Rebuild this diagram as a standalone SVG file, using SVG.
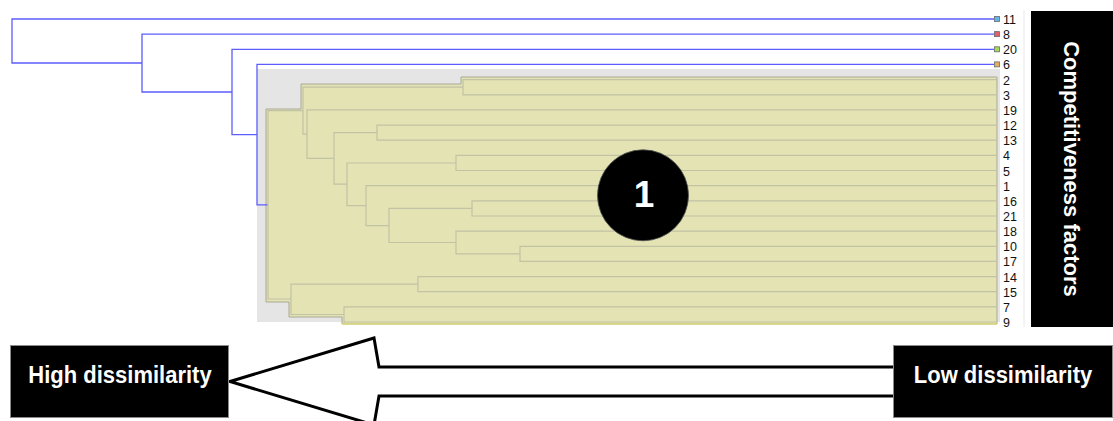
<svg xmlns="http://www.w3.org/2000/svg" width="1113" height="421" viewBox="0 0 1113 421">
<style>
.blue{fill:none;stroke:#5c5cff;stroke-width:1.3}
.tree{fill:none;stroke:#c2c2a4;stroke-width:1.2}
.lbl{font-family:"Liberation Sans",Arial,sans-serif;font-size:12.5px;fill:#111}
.sq{stroke:#6a6a6a;stroke-width:0.8}
.box{fill:#000;stroke:#8a8a8a;stroke-width:1}
.btxt{font-family:"Liberation Sans",Arial,sans-serif;font-weight:bold;font-size:22px;fill:#fff;text-anchor:middle}
</style>
<rect width="1113" height="421" fill="#fff"/>
<line x1="1024" y1="10" x2="1024" y2="327" stroke="#e8e8e8" stroke-width="1"/>

<g id="cluster-background">
  <rect x="257" y="69" width="743" height="253" fill="#e5e5e5"/>
  <polygon points="461,77 997,77 997,324 342,324 342,317 289,317 289,302 266,302 266,109 301,109 301,84 461,84" fill="#e3e3b4" stroke="#a9a996" stroke-width="1"/>
  <line x1="342" y1="324" x2="997" y2="324" stroke="#e6e060" stroke-width="1"/>
</g>

<g id="connectors">
  <g id="blue-tree" class="blue">
    <path d="M994,19 H12 V63 H142"/>
    <path d="M994,34.1 H142 V92 H232"/>
    <path d="M994,49.3 H232 V134.6 H257"/>
    <path d="M994,64.4 H257 V204.8 H268"/>
  </g>
  <g id="cluster-tree" class="tree">
    <path d="M291,299 H268 V110.6 H303"/>
    <path d="M463,87.2 H303 V134.2 H307"/>
    <path d="M997,79.6 H463 V94.8 H997"/>
    <path d="M997,109.9 H307 V158.3 H334"/>
    <path d="M377,132.7 H334 V184.2 H347"/>
    <path d="M997,125.1 H377 V140.2 H997"/>
    <path d="M456,163 H347 V205.7 H366"/>
    <path d="M997,155.4 H456 V170.5 H997"/>
    <path d="M997,185.7 H366 V225.6 H389"/>
    <path d="M472,208.4 H389 V242.5 H456"/>
    <path d="M997,200.8 H472 V216 H997"/>
    <path d="M997,231.1 H456 V253.9 H520"/>
    <path d="M997,246.3 H520 V261.4 H997"/>
    <path d="M418,284.2 H291 V314.5 H344"/>
    <path d="M997,276.6 H418 V291.7 H997"/>
    <path d="M997,306.9 H344 V322 H997"/>
  </g>
  <polygon id="arrow" points="230,381.5 374,338 379,367 900,367 900,396 379,396 374,425" fill="#fff" stroke="#000" stroke-width="3" stroke-linejoin="miter"/>
</g>

<g id="leaf-markers">
  <rect class="sq" x="994.5" y="16.5" width="5" height="5" fill="#62b6e4"/>
  <rect class="sq" x="994.5" y="31.6" width="5" height="5" fill="#e0606e"/>
  <rect class="sq" x="994.5" y="46.8" width="5" height="5" fill="#a6d85e"/>
  <rect class="sq" x="994.5" y="61.9" width="5" height="5" fill="#e2b064"/>
</g>

<g id="leaf-labels" class="lbl">
  <text x="1003" y="24">11</text>
  <text x="1003" y="39.1">8</text>
  <text x="1003" y="54.3">20</text>
  <text x="1003" y="69.4">6</text>
  <text x="1003" y="84.6">2</text>
  <text x="1003" y="99.8">3</text>
  <text x="1003" y="114.9">19</text>
  <text x="1003" y="130.1">12</text>
  <text x="1003" y="145.2">13</text>
  <text x="1003" y="160.4">4</text>
  <text x="1003" y="175.5">5</text>
  <text x="1003" y="190.7">1</text>
  <text x="1003" y="205.8">16</text>
  <text x="1003" y="221">21</text>
  <text x="1003" y="236.1">18</text>
  <text x="1003" y="251.3">10</text>
  <text x="1003" y="266.4">17</text>
  <text x="1003" y="281.6">14</text>
  <text x="1003" y="296.7">15</text>
  <text x="1003" y="311.9">7</text>
  <text x="1003" y="327">9</text>
</g>

<g id="cluster-badge">
  <circle cx="643" cy="195.3" r="45.5" fill="#000" stroke="#555" stroke-width="0.8"/>
  <text x="644" y="206.7" font-family="Liberation Sans, Arial, sans-serif" font-weight="bold" font-size="37" fill="#fff" text-anchor="middle">1</text>
</g>

<g id="competitiveness-factors">
  <rect x="1031" y="11" width="82" height="316" fill="#000"/>
  <text class="btxt" transform="translate(1072,169) rotate(90)" y="8" font-size="22.5">Competitiveness factors</text>
</g>

<g id="high-dissimilarity">
  <rect class="box" x="10.5" y="345.5" width="218" height="72"/>
  <text class="btxt" transform="translate(120,383) scale(1,1.12)">High dissimilarity</text>
</g>

<g id="low-dissimilarity">
  <rect class="box" x="893.5" y="345.5" width="219" height="72"/>
  <text class="btxt" transform="translate(1003,383) scale(1,1.12)">Low dissimilarity</text>
</g>
</svg>
